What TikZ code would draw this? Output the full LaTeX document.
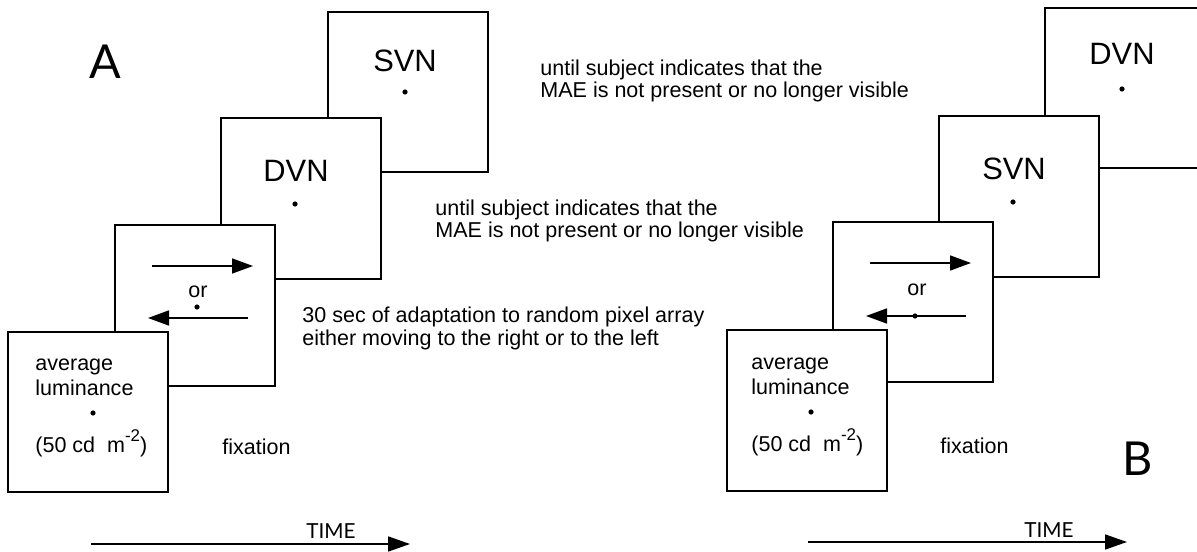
\documentclass[tikz,border=0pt]{standalone}
\usepackage{fontspec}
\setmainfont{Liberation Sans}
\newfontfamily\labfont{Lato}
\usetikzlibrary{arrows.meta}
\begin{document}
\begin{tikzpicture}[x=0.5bp,y=-0.5bp,
  screen/.style={draw, line width=1bp, fill=white, minimum width=80bp, minimum height=80bp, inner sep=0pt},
  txt/.style={inner sep=0pt, font=\fontsize{10.8}{12}\selectfont},
  big/.style={inner sep=0pt, font=\fontsize{15.5}{18}\selectfont},
  panel/.style={inner sep=0pt, font=\labfont\fontsize{23.5}{28}\selectfont},
  timetxt/.style={inner sep=0pt, font=\labfont\fontsize{10.4}{12}\selectfont},
  fixdot/.style={circle, fill=black, inner sep=0pt, minimum size=2.6bp},
  mv/.style={line width=0.8bp, -{Triangle[length=10.5bp,width=7.5bp]}},
  timeline/.style={line width=0.8bp, -{Triangle[length=11bp,width=7.5bp]}}
]
\useasboundingbox (0,0) rectangle (1197,552);
\clip (0,0) rectangle (1197,552);
% ---------------- Panel A ----------------
\node[screen] (a4) at (407.5,92.5) {};
\node[screen] (a3) at (301,198.5) {};
\node[screen] (a2) at (194.5,305.5) {};
\node[screen] (a1) at (88,412) {};
\node[panel, anchor=base] (labA) at (105,79) {A};
\node[big, anchor=base] (svnA) at (405,72) {SVN};
\node[fixdot] (svnAdot) at (405,92) {};
\node[big, anchor=base] (dvnA) at (296,182) {DVN};
\node[fixdot] (dvnAdot) at (295,204) {};
\coordinate (rA0) at (152,266);
\coordinate (rA1) at (253,266);
\draw[mv] (rA0) -- (rA1);
\node[txt, anchor=base] (orA) at (198,298) {or};
\node[fixdot] (orAdot) at (197,307) {};
\coordinate (lA0) at (248,318);
\coordinate (lA1) at (148,318);
\draw[mv] (lA0) -- (lA1);
\node[txt, anchor=base west] (avA) at (35,370) {average};
\node[txt, anchor=base west] (luA) at (35,395) {luminance};
\node[fixdot] (luAdot) at (93,413) {};
\node[txt, anchor=base west] (cdA) at (35,452) {(50 cd\ \ m\raisebox{0.5em}{\fontsize{8.5}{9}\selectfont -2})};
\node[txt, anchor=base west] (fixA) at (222,454) {fixation};
\node[txt, anchor=base west] (u1a) at (540,76) {until subject indicates that the};
\node[txt, anchor=base west] (u1b) at (540,98) {MAE is not present or no longer visible};
\node[txt, anchor=base west] (u2a) at (435,216) {until subject indicates that the};
\node[txt, anchor=base west] (u2b) at (435,238) {MAE is not present or no longer visible};
\node[txt, anchor=base west] (s30a) at (302,322) {30 sec of adaptation to random pixel array};
\node[txt, anchor=base west] (s30b) at (302,345) {either moving to the right or to the left};
\node[timetxt, anchor=base] (timeA) at (331,538) {TIME};
\coordinate (tA0) at (91,544);
\coordinate (tA1) at (410,544);
\draw[timeline] (tA0) -- (tA1);
% ---------------- Panel B ----------------
\node[screen] (b4) at (1125,88.5) {};
\node[screen] (b3) at (1018.5,196.5) {};
\node[screen] (b2) at (912.5,302) {};
\node[screen] (b1) at (806.5,410.5) {};
\node[big, anchor=base] (dvnB) at (1122,65) {DVN};
\node[fixdot] (dvnBdot) at (1122,89) {};
\node[big, anchor=base] (svnB) at (1014,180) {SVN};
\node[fixdot] (svnBdot) at (1013,202) {};
\coordinate (rB0) at (870,263);
\coordinate (rB1) at (971,263);
\draw[mv] (rB0) -- (rB1);
\node[txt, anchor=base] (orB) at (917,296) {or};
\coordinate (lB0) at (966,316);
\coordinate (lB1) at (866,316);
\draw[mv] (lB0) -- (lB1);
\node[fixdot] (orBdot) at (915,316) {};
\node[txt, anchor=base west] (avB) at (751,369) {average};
\node[txt, anchor=base west] (luB) at (751,394) {luminance};
\node[fixdot] (luBdot) at (811,412) {};
\node[txt, anchor=base west] (cdB) at (751,451) {(50 cd\ \ m\raisebox{0.5em}{\fontsize{8.5}{9}\selectfont -2})};
\node[txt, anchor=base west] (fixB) at (940,453) {fixation};
\node[panel, anchor=base] (labB) at (1138,475) {B};
\node[timetxt, anchor=base] (timeB) at (1049,537) {TIME};
\coordinate (tB0) at (808,542);
\coordinate (tB1) at (1127,542);
\draw[timeline] (tB0) -- (tB1);
\end{tikzpicture}
\end{document}
